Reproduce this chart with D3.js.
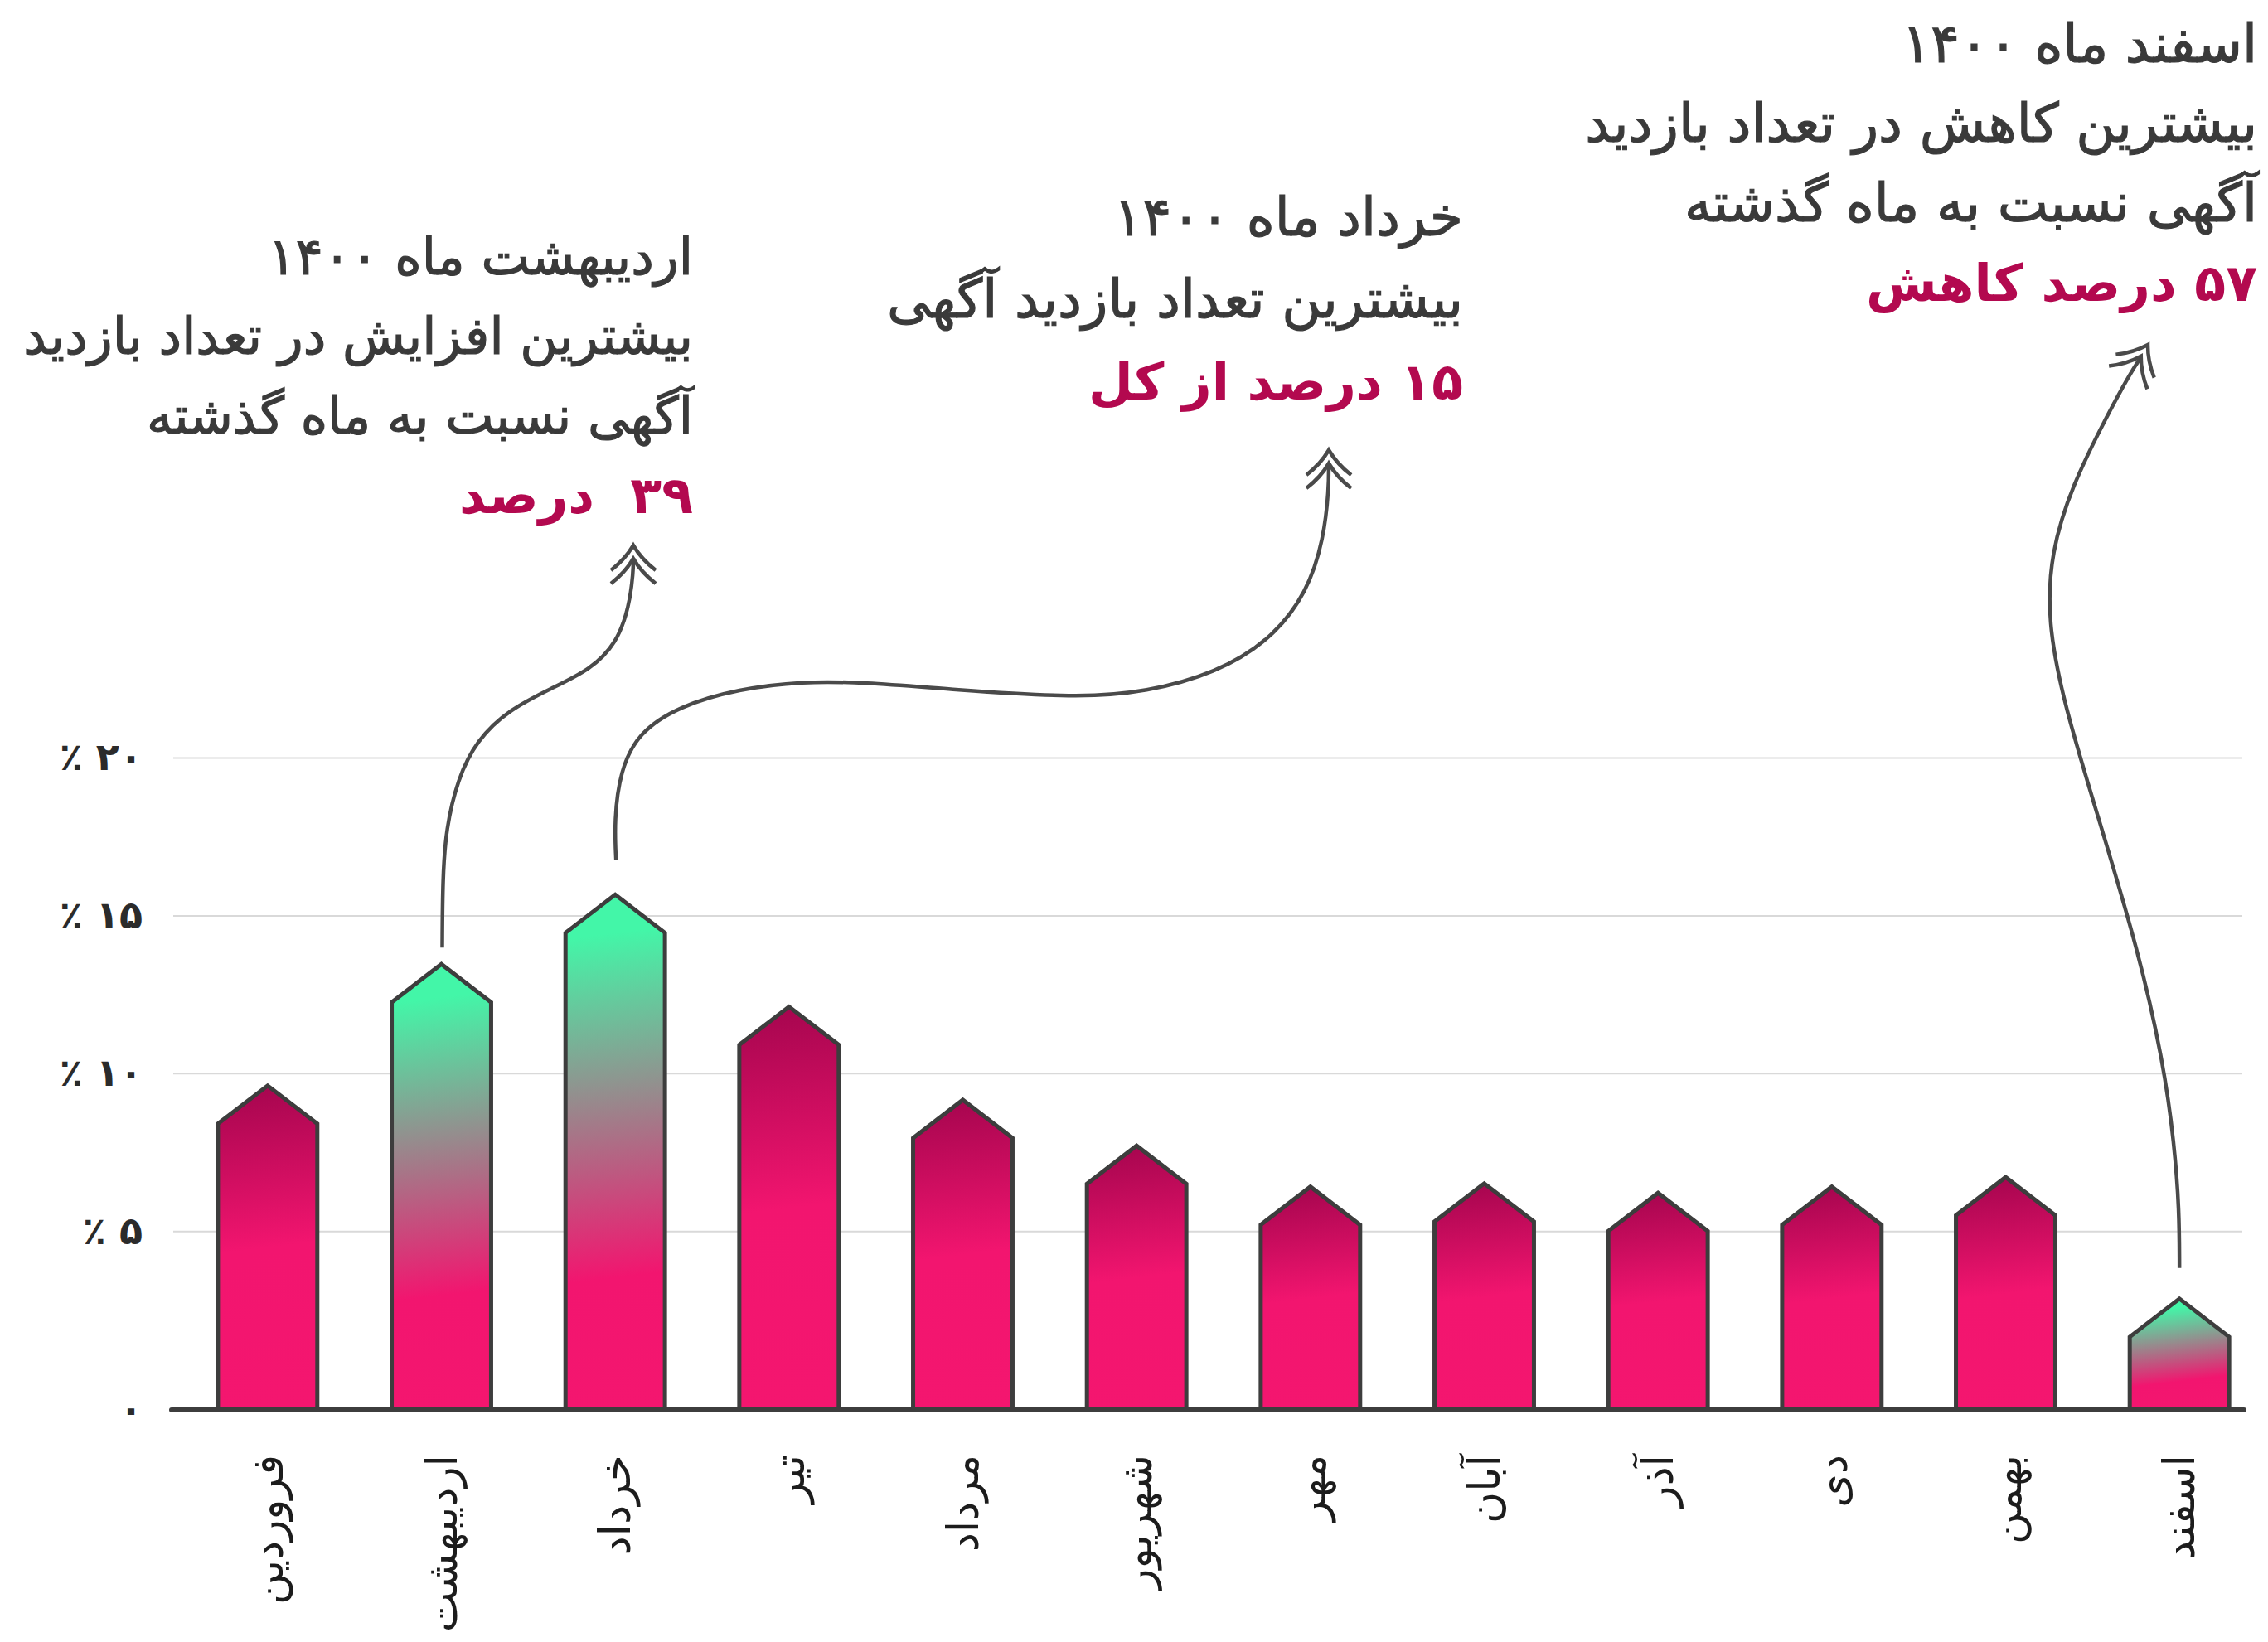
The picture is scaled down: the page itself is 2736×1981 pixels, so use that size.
<!DOCTYPE html>
<html>
<head>
<meta charset="utf-8">
<script src="https://cdn.jsdelivr.net/npm/d3@7/dist/d3.min.js"></script>
<style>
  body { margin: 0; background: #ffffff; }
  svg text { font-family: "DejaVu Sans", sans-serif; }
</style>
</head>
<body>
<div id="chart"></div>
<script>
// months of 1400 and share of ad views (%)
var months = ["فروردین", "اردیبهشت", "خرداد", "تیر", "مرداد", "شهریور", "مهر", "آبان", "آذر", "دی", "بهمن", "اسفند"];
var shares = [8.4, 12.25, 14.45, 10.9, 7.95, 6.5, 5.2, 5.3, 5.0, 5.2, 5.5, 1.65];
var greenMonths = ["اردیبهشت", "خرداد", "اسفند"];

var yTicks = [5, 10, 15, 20];
var yTickLabels = ["٪ ۵", "٪ ۱۰", "٪ ۱۵", "٪ ۲۰"];
var zeroLabel = "۰";

var noteOrdibehesht = ["اردیبهشت ماه ۱۴۰۰", "بیشترین افزایش در تعداد بازدید", "آگهی نسبت به ماه گذشته"];
var noteOrdibeheshtKey = "۳۹  درصد";
var noteKhordad = ["خرداد ماه ۱۴۰۰", "بیشترین تعداد بازدید آگهی"];
var noteKhordadKey = "۱۵ درصد از کل";
var noteEsfand = ["اسفند ماه ۱۴۰۰", "بیشترین کاهش در تعداد بازدید", "آگهی نسبت به ماه گذشته"];
var noteEsfandKey = "۵۷ درصد کاهش";

var W = 2736, H = 1981;
var gridX0 = 209, gridX1 = 2705;
var baseY = 1701;
var roof = 46;
var ink = "#3d3d3d";

var svg = d3.select('#chart').append('svg')
  .attr('width', W)
  .attr('height', H);

svg.append('rect').attr('width', W).attr('height', H).attr('fill', '#ffffff');

var x = d3.scaleBand().domain(months).range([218, 2734]).paddingInner(0.428).paddingOuter(0.214);
var y = d3.scaleLinear().domain([0, 20]).range([1675.7, 914]);
var bw = x.bandwidth();

// one gradient per bar, running from the roof tip down to the baseline
var defs = svg.append('defs');
var grads = defs.selectAll('linearGradient').data(months)
  .enter().append('linearGradient')
  .attr('id', function (d, i) { return 'g' + i; })
  .attr('gradientUnits', 'userSpaceOnUse')
  .attr('x1', function (d, i) { return x(d) + bw / 2 - 0.06 * (baseY - y(shares[i]) + roof); })
  .attr('x2', function (d, i) { return x(d) + bw / 2 + 0.06 * (baseY - y(shares[i]) + roof); })
  .attr('y1', function (d, i) { return y(shares[i]) - roof; })
  .attr('y2', baseY);

grads.each(function (d) {
  var g = d3.select(this);
  if (greenMonths.indexOf(d) >= 0) {
    g.append('stop').attr('offset', 0.08).attr('stop-color', '#43f6a8');
    g.append('stop').attr('offset', 0.74).attr('stop-color', '#f2156f');
  } else {
    g.append('stop').attr('offset', 0.02).attr('stop-color', '#a90650');
    g.append('stop').attr('offset', 0.5).attr('stop-color', '#f2156f');
  }
  g.append('stop').attr('offset', 1).attr('stop-color', '#f4166f');
});

// grid + y labels
var yAxis = d3.axisLeft(y)
  .tickValues(yTicks)
  .tickSize(-(gridX1 - gridX0))
  .tickPadding(37)
  .tickFormat(function (d, i) { return yTickLabels[i]; });

var gy = svg.append('g')
  .attr('transform', 'translate(' + gridX0 + ',0)')
  .call(yAxis);
gy.select('.domain').remove();
gy.selectAll('line').attr('stroke', '#d9d9d9').attr('stroke-width', 2);
gy.selectAll('text')
  .attr('font-family', '"DejaVu Sans", sans-serif')
  .attr('font-size', 46)
  .attr('font-weight', 'bold')
  .attr('fill', '#2b2b2b')
  .attr('dy', '0.32em');

svg.append('text')
  .attr('x', gridX0 - 37)
  .attr('y', baseY)
  .attr('dy', '0.32em')
  .attr('text-anchor', 'end')
  .attr('font-size', 46)
  .attr('font-weight', 'bold')
  .attr('fill', '#2b2b2b')
  .text(zeroLabel);

// bars with a pointed roof
svg.selectAll('path.bar').data(months)
  .enter().append('path')
  .attr('class', 'bar')
  .attr('d', function (d, i) {
    var x0 = x(d), x1 = x(d) + bw, top = y(shares[i]);
    return 'M' + x0 + ',' + baseY + 'L' + x0 + ',' + top + 'L' + (x0 + bw / 2) + ',' + (top - roof) +
      'L' + x1 + ',' + top + 'L' + x1 + ',' + baseY + 'Z';
  })
  .attr('fill', function (d, i) { return 'url(#g' + i + ')'; })
  .attr('stroke', ink)
  .attr('stroke-width', 5)
  .attr('stroke-linejoin', 'miter');

// baseline
svg.append('line')
  .attr('x1', gridX0 - 2).attr('x2', gridX1 + 2)
  .attr('y1', baseY).attr('y2', baseY)
  .attr('stroke', ink).attr('stroke-width', 6).attr('stroke-linecap', 'round');

// month labels, rotated
svg.selectAll('text.month').data(months)
  .enter().append('text')
  .attr('class', 'month')
  .attr('transform', function (d) { return 'translate(' + (x(d) + bw / 2) + ',1755) rotate(-90)'; })
  .attr('text-anchor', 'end')
  .attr('dy', '0.35em')
  .attr('font-size', 52)
  .attr('fill', '#1c1c1c')
  .text(function (d) { return d; });

// annotation blocks
function note(lines, key, right, firstBase, step, size) {
  var g = svg.append('g');
  lines.forEach(function (t, i) {
    g.append('text')
      .attr('x', right).attr('y', firstBase + i * step)
      .attr('direction', 'rtl')
      .attr('text-anchor', 'start')
      .attr('font-size', size)
      .attr('fill', '#3a3a3a')
      .attr('stroke', '#3a3a3a')
      .attr('stroke-width', 1.2)
      .text(t);
  });
  g.append('text')
    .attr('x', right).attr('y', firstBase + lines.length * step)
    .attr('direction', 'rtl')
    .attr('text-anchor', 'start')
    .attr('font-size', 62)
    .attr('font-weight', 'bold')
    .attr('fill', '#b3094f')
    .style('white-space', 'pre')
    .text(key);
}
note(noteOrdibehesht, noteOrdibeheshtKey, 836, 331, 96, 62);
note(noteKhordad, noteKhordadKey, 1765, 284, 99, 65);
note(noteEsfand, noteEsfandKey, 2723, 75, 96, 65);

// connectors from bars to notes
function topOf(m) {
  var i = months.indexOf(m);
  return [x(m) + bw / 2, y(shares[i]) - roof];
}
var line = d3.line().curve(d3.curveBasis);

function connector(pts, tip, angle) {
  svg.append('path')
    .attr('d', line(pts))
    .attr('fill', 'none')
    .attr('stroke', '#4a4a4a')
    .attr('stroke-width', 4.5);
  var a = svg.append('g').attr('transform', 'translate(' + tip[0] + ',' + tip[1] + ') rotate(' + angle + ')');
  [0, 16].forEach(function (off) {
    a.append('path')
      .attr('d', 'M-27,' + (30 + off) + 'Q-10,' + (17 + off) + ' 0,' + off + 'Q10,' + (17 + off) + ' 27,' + (30 + off))
      .attr('fill', 'none')
      .attr('stroke', '#4a4a4a')
      .attr('stroke-width', 4.5);
  });
}

var t1 = topOf("اردیبهشت");
connector([[t1[0] + 1, t1[1] - 20], [534, 1060], [538, 1000], [552, 940], [575, 893], [614, 856], [666, 830],
  [712, 808], [744, 776], [759, 732], [764, 690], [764, 673]], [764, 658], 0);

var t2 = topOf("خرداد");
connector([[t2[0] + 1, t2[1] - 42], [741, 990], [748, 930], [770, 884], [819, 852], [891, 831],
  [969, 822], [1040, 823], [1150, 832], [1300, 842], [1383, 835], [1467, 812], [1533, 772],
  [1577, 715], [1597, 650], [1603, 590], [1603, 559]], [1603, 543], 0);

var t3 = topOf("اسفند");
connector([[t3[0], t3[1] - 37], [2629, 1460], [2623, 1380], [2610, 1283], [2580, 1148], [2530, 982], [2490, 850],
  [2470, 750], [2474, 666], [2500, 585], [2540, 505], [2570, 450], [2582, 432]], [2591, 416], 31);
</script>
</body>
</html>
